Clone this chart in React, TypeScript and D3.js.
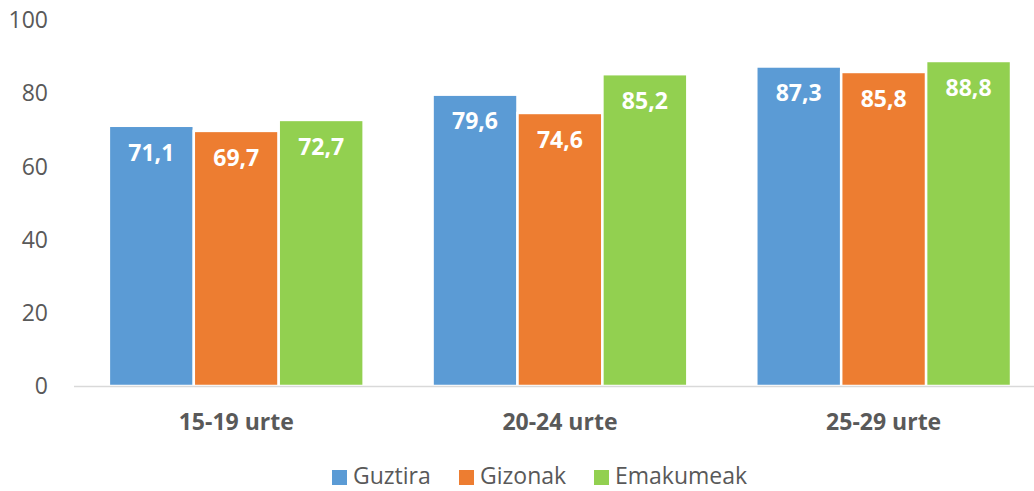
import React from 'react';
import * as d3 from 'd3';

const categories = ['15-19 urte', '20-24 urte', '25-29 urte'];
const seriesNames = ['Guztira', 'Gizonak', 'Emakumeak'];
const guztira = [71.1, 79.6, 87.3];
const gizonak = [69.7, 74.6, 85.8];
const emakumeak = [72.7, 85.2, 88.8];
const yTicks = [0, 20, 40, 60, 80, 100];
const colors = ['#5b9bd5', '#ed7d31', '#92d050'];

const W = 1034;
const H = 491;
const FONT = '"Open Sans", sans-serif';

export default function App()
{
    const values = [guztira, gizonak, emakumeak];

    const x0 = d3.scaleBand<string>()
        .domain(categories)
        .range([74.4, 1045.5])
        .paddingInner(0.213)
        .paddingOuter(0.1065);

    const x1 = d3.scaleBand<string>()
        .domain(seriesNames)
        .range([0, x0.bandwidth()]);

    const y = d3.scaleLinear().domain([0, 100]).range([386, 20]);

    const fmt = (v: number) => v.toFixed(1).replace('.', ',');

    // legend layout
    const legendX = [332, 459, 594];

    return (
        <svg width={W} height={H} style={{position: 'absolute', left: 0, top: 0}} fontFamily={FONT}>
            <rect width={W} height={H} fill="#fff"/>
            {yTicks.map(t => (
                <text key={t} x={48} y={y(t)} dy="0.36em" textAnchor="end" fontSize={23} fill="#595959">{t}</text>
            ))}
            {categories.map((c, i) => (
                <g key={c} transform={'translate(' + x0(c) + ',0)'}>
                    {seriesNames.map((s, j) => {
                        const v = values[j][i];
                        const bx = x1(s) as number;
                        return (
                            <g key={s}>
                                <rect x={bx} y={y(v)} width={x1.bandwidth()} height={y(0) - y(v)}
                                      fill={colors[j]} stroke="#fff" strokeWidth={2.5}/>
                                <text x={bx + x1.bandwidth() / 2} y={y(v) + 26.5} dy="0.36em" textAnchor="middle"
                                      fontSize={23} fontWeight="bold" fill="#fff">{fmt(v)}</text>
                            </g>
                        );
                    })}
                    <text x={x0.bandwidth() / 2} y={430} textAnchor="middle" fontSize={23} fontWeight="bold" fill="#595959">{c}</text>
                </g>
            ))}
            <line x1={74} x2={1046} y1={386.5} y2={386.5} stroke="#d9d9d9" strokeWidth={1.5}/>
            {seriesNames.map((s, j) => (
                <g key={s} transform={'translate(' + legendX[j] + ',470)'}>
                    <rect width={15} height={15} fill={colors[j]}/>
                    <text x={21} y={14} fontSize={23} fill="#595959">{s}</text>
                </g>
            ))}
        </svg>
    );
}
